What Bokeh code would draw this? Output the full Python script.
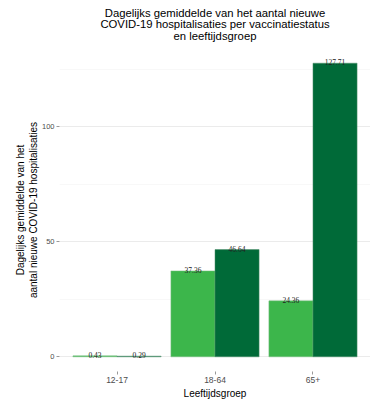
from bokeh.plotting import figure
from bokeh.models import (FactorRange, Range1d, FixedTicker, ColumnDataSource,
                          Title, LinearAxis)
from bokeh.transform import dodge
from bokeh.embed import file_html
from bokeh.resources import INLINE

groups = ["12-17", "18-64", "65+"]
status_a = [0.43, 37.36, 24.36]   # lichtgroen
status_b = [0.29, 46.64, 127.71]  # donkergroen
y_ticks = [0, 50, 100]
y_minor = [25, 75, 125]
title_text = ("Dagelijks gemiddelde van het aantal nieuwe\n"
              "COVID-19 hospitalisaties per vaccinatiestatus\n"
              "en leeftijdsgroep")
x_title = "Leeftijdsgroep"
y_title_lines = ["Dagelijks gemiddelde van het",
                 "aantal nieuwe COVID-19 hospitalisaties"]

light = "#3cb64b"
dark = "#006a38"
FONT = "Liberation Sans"
PADX = 0.087

src = ColumnDataSource(dict(
    g=groups, a=status_a, b=status_b,
    la=[f"{v:.2f}" for v in status_a],
    lb=[f"{v:.2f}" for v in status_b],
))

ymax = max(status_a + status_b)
pad = ymax * 0.05

p = figure(
    width=370, height=400,
    x_range=FactorRange(factors=groups, range_padding=PADX, range_padding_units="absolute"),
    y_range=Range1d(-pad, ymax + pad),
    output_backend="svg", toolbar_location=None,
    min_border_left=59, min_border_right=0, min_border_top=48, min_border_bottom=29,
)
p.outline_line_color = None
p.background_fill_color = "white"

p.vbar(x=dodge("g", -0.225, range=p.x_range), top="a", width=0.45, source=src,
       fill_color=light, line_color="#7fbf86", line_width=0.5)
p.vbar(x=dodge("g", 0.225, range=p.x_range), top="b", width=0.45, source=src,
       fill_color=dark, line_color="#4f8f6a", line_width=0.5)

p.text(x=dodge("g", -0.225, range=p.x_range), y="a", text="la", source=src,
       text_align="center", text_baseline="middle", text_font_size="7.5px",
       text_color="#222222", text_font=FONT, y_offset=-1)
p.text(x=dodge("g", 0.225, range=p.x_range), y="b", text="lb", source=src,
       text_align="center", text_baseline="middle", text_font_size="7.5px",
       text_color="#222222", text_font=FONT, y_offset=-1)

# grid
p.xgrid.grid_line_color = None
p.ygrid.grid_line_color = "#ebebeb"
p.ygrid.grid_line_width = 1
p.ygrid.minor_grid_line_color = "#f3f3f3"
p.ygrid.minor_grid_line_width = 0.6

p.yaxis.ticker = FixedTicker(ticks=y_ticks, minor_ticks=y_minor)
for ax in (p.xaxis, p.yaxis):
    ax.axis_line_color = None
    ax.major_tick_line_color = "#999999"
    ax.major_tick_in = 0
    ax.major_tick_out = 3
    ax.minor_tick_line_color = None
    ax.major_label_text_color = "#4d4d4d"
    ax.major_label_text_font = FONT

p.xaxis.major_label_text_font_size = "8.5px"
p.xaxis.major_label_standoff = 2
p.yaxis.major_label_text_font_size = "7.5px"
p.yaxis.major_label_standoff = 1

# title: an invisible axis above carrying a centred multi-line label
tax = LinearAxis(ticker=FixedTicker(ticks=[]), axis_line_color=None,
                 major_tick_line_color=None, minor_tick_line_color=None,
                 major_tick_out=0, major_label_standoff=0,
                 axis_label=title_text, axis_label_standoff=7,
                 axis_label_text_font=FONT, axis_label_text_font_size="11.3px",
                 axis_label_text_font_style="normal", axis_label_text_color="#000000",
                 axis_label_text_line_height=0.95)
p.add_layout(tax, "above")

# y axis title: two stacked titles on the left
for line, st in zip(reversed(y_title_lines), [0, 0]):
    p.add_layout(Title(text=line, align="center", offset=13, standoff=st,
                       text_font=FONT, text_font_size="10px",
                       text_font_style="normal", text_color="#000000"), "left")

# x axis title
p.add_layout(Title(text=x_title, align="center", offset=8, standoff=0,
                   text_font=FONT, text_font_size="10px",
                   text_font_style="normal", text_color="#000000"), "below")

open("out.html", "w").write(file_html(p, INLINE))
